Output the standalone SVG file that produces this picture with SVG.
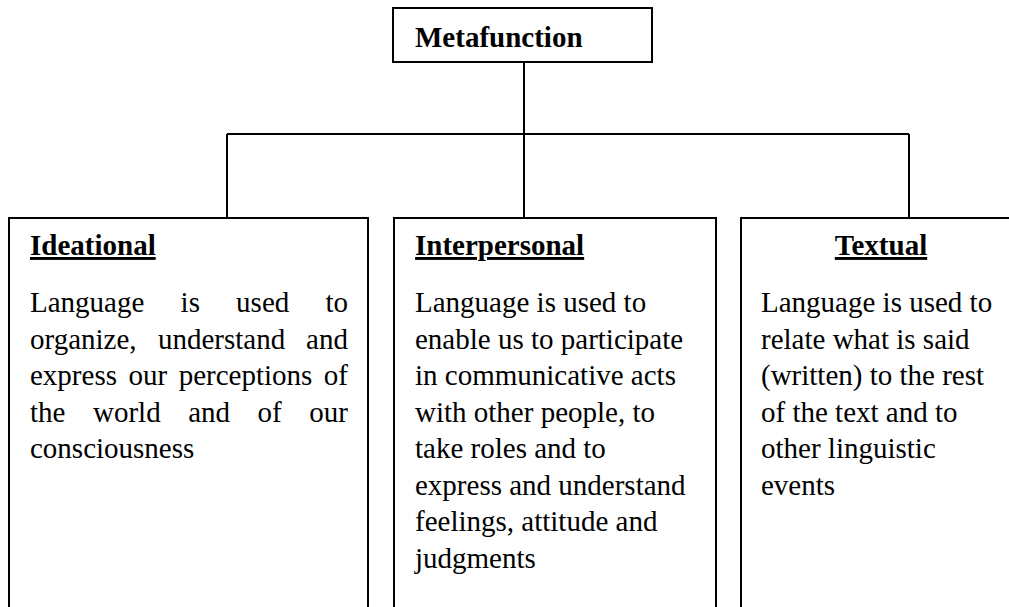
<svg xmlns="http://www.w3.org/2000/svg" width="1009" height="607" viewBox="0 0 1009 607">
  <style>
    .box { fill: #ffffff; stroke: #000000; stroke-width: 2; }
    .link { fill: none; stroke: #000000; stroke-width: 2; }
    text { font-family: "Liberation Serif", "Times New Roman", serif; font-size: 29px; fill: #000000; }
    .title { font-weight: bold; }
    .head { font-weight: bold; text-decoration: underline; }
  </style>
  <rect width="1009" height="607" fill="#ffffff"/>

  <!-- tree connectors -->
  <g id="connectors">
    <path class="link" d="M524 62 V134"/>
    <path class="link" d="M227 134 H909"/>
    <path class="link" d="M227 134 V218"/>
    <path class="link" d="M524 134 V218"/>
    <path class="link" d="M909 134 V218"/>
  </g>

  <!-- root -->
  <g id="metafunction">
    <rect class="box" x="393" y="8" width="259" height="54"/>
    <text class="title" x="415" y="47">Metafunction</text>
  </g>

  <!-- ideational (justified body) -->
  <g id="ideational">
    <rect class="box" x="9" y="218" width="359" height="410"/>
    <text class="head" x="30" y="255">Ideational</text>
    <text y="312"><tspan x="30">Language</tspan><tspan x="180.6">is</tspan><tspan x="236.1">used</tspan><tspan x="325.4">to</tspan></text>
    <text y="348.5"><tspan x="30">organize,</tspan><tspan x="158">understand</tspan><tspan x="306.1">and</tspan></text>
    <text y="385"><tspan x="30">express</tspan><tspan x="128.5">our</tspan><tspan x="178.7">perceptions</tspan><tspan x="323.8">of</tspan></text>
    <text y="421.5"><tspan x="30">the</tspan><tspan x="93">world</tspan><tspan x="188.2">and</tspan><tspan x="257.6">of</tspan><tspan x="309.3">our</tspan></text>
    <text x="30" y="458">consciousness</text>
  </g>

  <!-- interpersonal -->
  <g id="interpersonal">
    <rect class="box" x="394" y="218" width="322" height="410"/>
    <text class="head" x="415" y="255">Interpersonal</text>
    <text x="415" y="312">Language is used to</text>
    <text x="415" y="348.5">enable us to participate</text>
    <text x="415" y="385">in communicative acts</text>
    <text x="415" y="421.5">with other people, to</text>
    <text x="415" y="458">take roles and to</text>
    <text x="415" y="494.5">express and understand</text>
    <text x="415" y="531">feelings, attitude and</text>
    <text x="415" y="567.5">judgments</text>
  </g>

  <!-- textual -->
  <g id="textual">
    <rect class="box" x="741" y="218" width="300" height="410"/>
    <text class="head" x="881" y="255" text-anchor="middle">Textual</text>
    <text x="761" y="312">Language is used to</text>
    <text x="761" y="348.5">relate what is said</text>
    <text x="761" y="385">(written) to the rest</text>
    <text x="761" y="421.5">of the text and to</text>
    <text x="761" y="458">other linguistic</text>
    <text x="761" y="494.5">events</text>
  </g>
</svg>
